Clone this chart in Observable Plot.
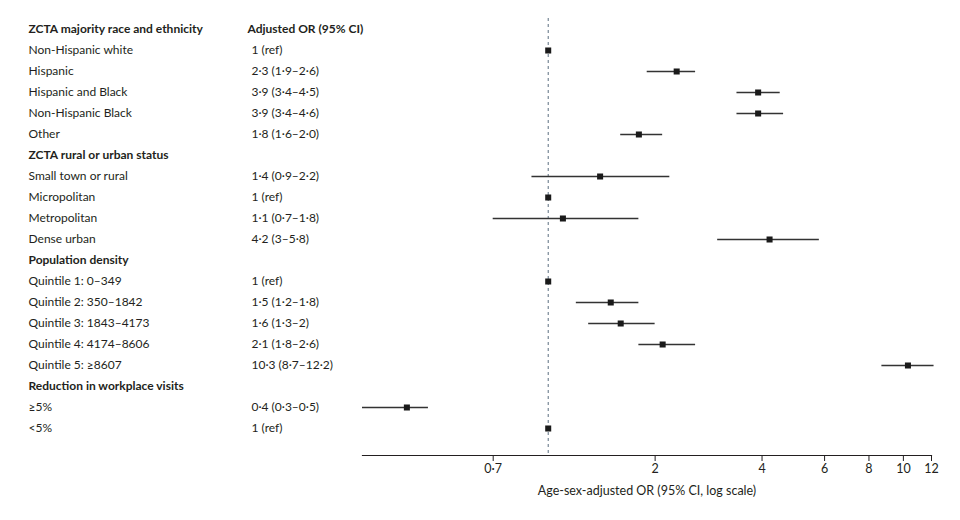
<!DOCTYPE html>
<html>
<head>
<meta charset="utf-8">
<script src="https://cdn.jsdelivr.net/npm/d3@7"></script>
<script src="https://cdn.jsdelivr.net/npm/@observablehq/plot@0.6"></script>
<style>
  html, body { margin: 0; padding: 0; background: #fff; }
</style>
</head>
<body>
<div id="chart"></div>
<script>
const groupTitles = [
  "ZCTA majority race and ethnicity",
  "ZCTA rural or urban status",
  "Population density",
  "Reduction in workplace visits"
];
const columnTitle = "Adjusted OR (95% CI)";
const rowLabels = [
  "Non-Hispanic white", "Hispanic", "Hispanic and Black", "Non-Hispanic Black", "Other",
  "Small town or rural", "Micropolitan", "Metropolitan", "Dense urban",
  "Quintile 1: 0–349", "Quintile 2: 350–1842", "Quintile 3: 1843–4173", "Quintile 4: 4174–8606", "Quintile 5: ≥8607",
  "≥5%", "<5%"
];
const rowGroup = [0,0,0,0,0, 1,1,1,1, 2,2,2,2,2, 3,3];
const orValue  = [1, 2.3, 3.9, 3.9, 1.8,  1.4, 1, 1.1, 4.2,  1, 1.5, 1.6, 2.1, 10.3,  0.4, 1];
const ciLow    = [null, 1.9, 3.4, 3.4, 1.6,  0.9, null, 0.7, 3.0,  null, 1.2, 1.3, 1.8, 8.7,  0.3, null];
const ciHigh   = [null, 2.6, 4.5, 4.6, 2.1,  2.2, null, 1.8, 5.8,  null, 1.8, 2.0, 2.6, 12.2,  0.46, null];
const orLabels = [
  "1 (ref)", "2·3 (1·9–2·6)", "3·9 (3·4–4·5)", "3·9 (3·4–4·6)", "1·8 (1·6–2·0)",
  "1·4 (0·9–2·2)", "1 (ref)", "1·1 (0·7–1·8)", "4·2 (3–5·8)",
  "1 (ref)", "1·5 (1·2–1·8)", "1·6 (1·3–2)", "2·1 (1·8–2·6)", "10·3 (8·7–12·2)",
  "0·4 (0·3–0·5)", "1 (ref)"
];
const xTicks = [0.7, 2, 4, 6, 8, 10, 12];
const xDomain = [0.3, 12];
const axisTitle = "Age-sex-adjusted OR (95% CI, log scale)";

// build rows table
const rows = [];
groupTitles.forEach((g, gi) => {
  rows.push({key: "h" + gi, label: g, header: true, orText: gi === 0 ? columnTitle : ""});
  rowLabels.forEach((l, i) => {
    if (rowGroup[i] === gi) {
      rows.push({key: "r" + i, label: l, header: false, orText: orLabels[i],
                 est: orValue[i], lo: ciLow[i], hi: ciHigh[i]});
    }
  });
});
const headers = rows.filter(d => d.header);
const points = rows.filter(d => !d.header);
const cis = points.filter(d => d.lo != null);
const fmt = d => String(d).replace(".", "·");
const ink = "#231f20";

const chart = Plot.plot({
  width: 960,
  height: 520,
  marginLeft: 362,
  marginRight: 29,
  marginTop: 18,
  marginBottom: 65,
  style: {fontFamily: "Lato, 'Open Sans', sans-serif", fontSize: "12px", color: ink, background: "#fff"},
  x: {type: "log", domain: xDomain},
  y: {type: "point", domain: rows.map(d => d.key), range: [25, 432], padding: 0, axis: null},
  marks: [
    Plot.ruleX([1], {stroke: "#5b6f80", strokeDasharray: "3,3", strokeWidth: 1}),
    Plot.frame({anchor: "bottom", stroke: ink, strokeWidth: 1.2}),
    Plot.axisX({ticks: xTicks, tickFormat: () => "", tickSize: 6, stroke: ink, label: null}),
    Plot.text(xTicks, {x: d => d, text: fmt, frameAnchor: "bottom", dy: 17, fill: ink, fontSize: 12.5}),
    Plot.text([axisTitle], {frameAnchor: "bottom", dy: 39, fill: ink, fontSize: 12.5}),
    Plot.ruleY(cis, {y: "key", x1: "lo", x2: "hi", stroke: "#333", strokeWidth: 1.3}),
    Plot.dot(points, {y: "key", x: "est", symbol: "square", r: 3.4, fill: "#1a1a1a", stroke: "none"}),
    Plot.text(headers, {y: "key", text: "label", frameAnchor: "left", dx: -334, textAnchor: "start",
      fontWeight: "bold", fill: ink}),
    Plot.text(points, {y: "key", text: "label", frameAnchor: "left", dx: -334, textAnchor: "start", fill: ink}),
    Plot.text(headers, {y: "key", text: "orText", frameAnchor: "left", dx: -115, textAnchor: "start",
      fontWeight: "bold", fill: ink}),
    Plot.text(points, {y: "key", text: "orText", frameAnchor: "left", dx: -111, textAnchor: "start", fill: ink})
  ]
});
document.getElementById("chart").appendChild(chart);
</script>
</body>
</html>
